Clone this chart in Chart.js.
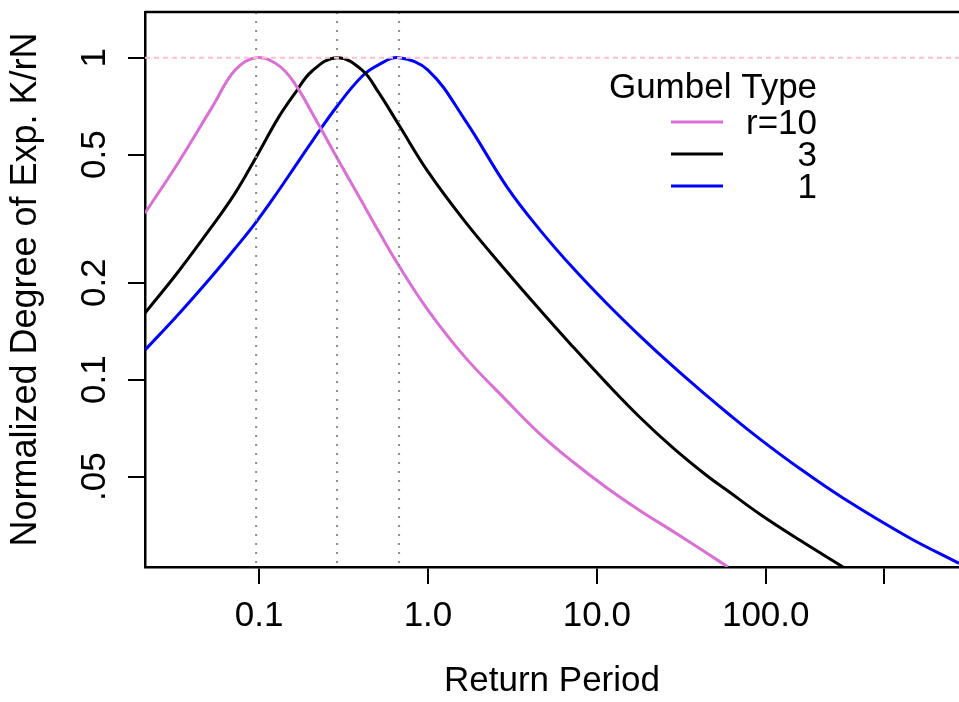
<!DOCTYPE html>
<html>
<head>
<meta charset="utf-8">
<script src="https://cdn.jsdelivr.net/npm/chart.js@4"></script>
<style>
  html, body { margin: 0; padding: 0; background: #fff; }
  canvas { display: block; }
</style>
</head>
<body>
<canvas id="myChart" width="959" height="702"></canvas>
<script>
// values (log-log axes)
const period = [0.0211, 0.0331, 0.0527, 0.0721, 0.096, 0.1296, 0.1633, 0.206, 0.2895, 0.4073, 0.5064, 0.6744,
  1.0, 1.658, 2.94, 4.61, 7.23, 11.49, 18.03, 28.26, 44.9, 59.8, 92.5, 159.6, 286.9, 686.5, 1395];
const r10 = [0.329, 0.471, 0.702, 0.915, 1.0, 0.948, 0.828, 0.673, 0.488, 0.356, 0.291, 0.2253,
  0.1645, 0.1175, 0.0858, 0.0678, 0.0555, 0.0461, 0.0392, 0.0338, 0.0289, 0.0262, null, null, null, null, null];
const r3 = [0.161, 0.2159, 0.2999, 0.3797, 0.491, 0.649, 0.776, 0.909, 1.0, 0.915, 0.784, 0.6166,
  0.4426, 0.3097, 0.216, 0.1646, 0.1264, 0.0972, 0.0763, 0.0614, 0.0503, 0.0451, 0.0382, 0.0317, 0.0262, null, null];
const r1 = [0.1236, 0.1591, 0.2099, 0.2557, 0.3087, 0.3847, 0.4599, 0.5498, 0.7066, 0.8754, 0.9484, 1.0,
  0.915, 0.64, 0.3963, 0.2914, 0.2221, 0.1721, 0.1366, 0.1099, 0.089, 0.0785, 0.0654, 0.0529, 0.0429, 0.0326, 0.0269];
const seriesNames = ['r=10', '3', '1'];
const seriesColors = ['#da70d6', '#000000', '#0000ff'];
const peakPeriod = [0.096, 0.2895, 0.6744];

const xTicks = [0.1, 1, 10, 100, 500];
const xTickLabels = ['0.1', '1.0', '10.0', '100.0', ''];
const yTicks = [0.05, 0.1, 0.2, 0.5, 1];
const yTickLabels = ['.05', '0.1', '0.2', '0.5', '1'];
const xRange = [0.0211, 1395];
const yRange = [0.0262, 1.386];

const FONT = '"Liberation Sans", Arial, Helvetica, sans-serif';

function pts(ys) {
  let out = [];
  for (let i = 0; i < period.length; i++) {
    if (ys[i] != null) out.push({ x: period[i], y: ys[i] });
  }
  return out;
}

let datasets = [];
// reference lines on top of the curves
datasets.push({
  data: [{ x: xRange[0], y: 1 }, { x: xRange[1], y: 1 }],
  borderColor: '#ffc0cb', borderWidth: 2, borderDash: [5, 4], tension: 0
});
peakPeriod.forEach(p => {
  datasets.push({
    data: [{ x: p, y: yRange[1] }, { x: p, y: yRange[0] }],
    borderColor: '#8c8c8c', borderWidth: 2, borderDash: [2, 7], tension: 0
  });
});
[r10, r3, r1].forEach((s, i) => {
  datasets.push({
    label: seriesNames[i],
    data: pts(s),
    borderColor: seriesColors[i],
    borderWidth: 3,
    tension: 0.4
  });
});

// box top line + legend
const extras = {
  id: 'extras',
  afterDraw(chart) {
    const ctx = chart.ctx;
    const a = chart.chartArea;
    ctx.save();
    ctx.strokeStyle = '#000';
    ctx.lineWidth = 2.5;
    ctx.beginPath();
    ctx.moveTo(a.left, a.top);
    ctx.lineTo(a.right, a.top);
    ctx.stroke();

    ctx.font = '35px ' + FONT;
    ctx.fillStyle = '#000';
    ctx.textBaseline = 'alphabetic';
    ctx.textAlign = 'center';
    ctx.fillText('Gumbel Type', 713, 98);
    ctx.textAlign = 'right';
    seriesNames.forEach((n, i) => {
      const y = 122 + i * 32;
      ctx.strokeStyle = seriesColors[i];
      ctx.lineWidth = 3;
      ctx.beginPath();
      ctx.moveTo(671, y);
      ctx.lineTo(723, y);
      ctx.stroke();
      ctx.fillText(n, 817, y + 12);
    });
    ctx.restore();
  }
};

const ctx = document.getElementById('myChart');
new Chart(ctx, {
  type: 'line',
  data: { datasets: datasets },
  plugins: [extras],
  options: {
    responsive: false,
    animation: false,
    layout: { padding: { top: 12, left: 0, right: 0, bottom: 0 } },
    plugins: { legend: { display: false }, tooltip: { enabled: false } },
    elements: { point: { radius: 0 }, line: { fill: false } },
    datasets: { line: { clip: 0 } },
    scales: {
      x: {
        type: 'logarithmic',
        min: xRange[0],
        max: xRange[1],
        afterBuildTicks: s => { s.ticks = xTicks.map(v => ({ value: v })); },
        afterFit: s => { s.height = 135; s.paddingLeft = 0; s.paddingRight = 0; },
        ticks: {
          autoSkip: false, maxRotation: 0, minRotation: 0, padding: 11, color: '#000',
          font: { family: FONT, size: 35 },
          callback: (v, i) => xTickLabels[i]
        },
        grid: { drawOnChartArea: false, tickLength: 17, color: '#000', lineWidth: 2 },
        border: { color: '#000', width: 2.5 },
        title: {
          display: true, text: 'Return Period', color: '#000',
          font: { family: FONT, size: 35 }, padding: { top: 0, bottom: 0 }
        }
      },
      y: {
        type: 'logarithmic',
        min: yRange[0],
        max: yRange[1],
        afterBuildTicks: s => { s.ticks = yTicks.map(v => ({ value: v })); },
        afterFit: s => { s.width = 145; s.paddingTop = 0; s.paddingBottom = 0; },
        ticks: {
          autoSkip: false, minRotation: 90, maxRotation: 90, crossAlign: 'center', padding: 8, color: '#000',
          font: { family: FONT, size: 35 },
          callback: (v, i) => yTickLabels[i]
        },
        grid: { drawOnChartArea: false, tickLength: 17, color: '#000', lineWidth: 2 },
        border: { color: '#000', width: 2.5 },
        title: {
          display: true, text: 'Normalized Degree of Exp. K/rN', color: '#000',
          font: { family: FONT, size: 36 }, padding: { top: 4, bottom: 0 }
        }
      }
    }
  }
});
</script>
</body>
</html>
